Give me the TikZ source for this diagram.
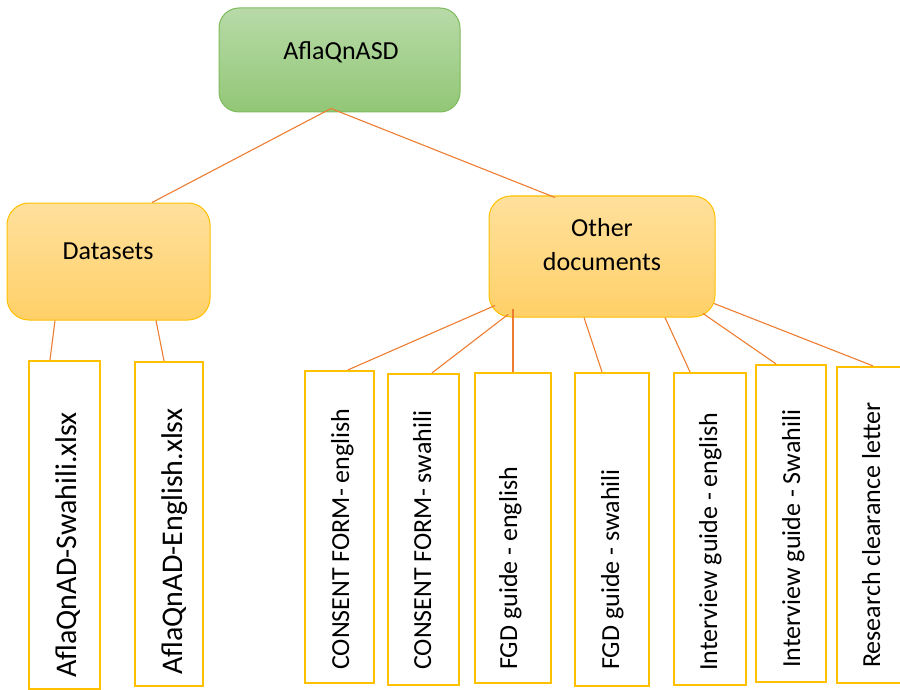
\documentclass[tikz,border=0pt]{standalone}
\usepackage{fontspec}
\setmainfont{Carlito}
\definecolor{gtop}{RGB}{184,218,168}
\definecolor{gbot}{RGB}{146,199,118}
\definecolor{gborder}{RGB}{125,186,92}
\definecolor{otop}{RGB}{255,224,156}
\definecolor{obot}{RGB}{255,208,104}
\definecolor{oborder}{RGB}{255,192,0}
\definecolor{conn}{RGB}{237,125,49}
\tikzset{
  rootbox/.style={draw=gborder, line width=1pt, rounded corners=20pt, shading=axis, top color=gtop, bottom color=gbot, inner sep=0pt},
  midbox/.style={draw=oborder, line width=1pt, rounded corners=22pt, shading=axis, top color=otop, bottom color=obot, inner sep=0pt},
  leafbox/.style={draw=oborder, line width=2.2pt, fill=white, inner sep=0pt},
  lbl/.style={font=\fontsize{26}{34}\selectfont, inner sep=0pt, text=black},
  leaftext/.style={lbl, rotate=90, anchor=base west},
  bigleaftext/.style={leaftext, font=\fontsize{30}{36}\selectfont},
  connector/.style={draw=conn, line width=1.1pt}
}
\begin{document}
\begin{tikzpicture}[x=1pt,y=-1pt]
\useasboundingbox (0,0) rectangle (900,690);
\clip (0,0) rectangle (900,690);
% main boxes
\node[rootbox, minimum width=241pt, minimum height=104pt] (root) at (339.5,60) {};
\node[lbl, anchor=base] (roottxt) at (341,60) {AflaQnASD};
\node[midbox, minimum width=203pt, minimum height=117pt] (data) at (108.5,261.5) {};
\node[lbl, anchor=base] (datatxt) at (108,259) {Datasets};
\node[midbox, minimum width=226pt, minimum height=121pt] (other) at (602,256.5) {};
\node[lbl, align=center] (othertxt) at (602,245) {Other\\documents};
% leaves
\node[leafbox, minimum width=71pt, minimum height=328pt] (l1) at (64.5,525) {};
\node[leafbox, minimum width=68pt, minimum height=324pt] (l2) at (169,524) {};
\node[leafbox, minimum width=69pt, minimum height=312pt] (l3) at (339.5,527) {};
\node[leafbox, minimum width=71pt, minimum height=311pt] (l4) at (423.5,529.5) {};
\node[leafbox, minimum width=76pt, minimum height=310pt] (l5) at (513,528) {};
\node[leafbox, minimum width=74pt, minimum height=313pt] (l6) at (612,529.5) {};
\node[leafbox, minimum width=72pt, minimum height=312pt] (l7) at (710,529) {};
\node[leafbox, minimum width=70pt, minimum height=317pt] (l8) at (791,523.5) {};
\node[leafbox, minimum width=78pt, minimum height=316pt] (l9) at (876,525) {};
\node[bigleaftext] (t1) at (76,678) {AflaQnAD-Swahili.xlsx};
\node[bigleaftext] (t2) at (182,675) {AflaQnAD-English.xlsx};
\node[leaftext] (t3) at (349,670) {CONSENT FORM- english};
\node[leaftext] (t4) at (431,670) {CONSENT FORM- swahili};
\node[leaftext] (t5) at (517,670) {FGD guide - english};
\node[leaftext] (t6) at (619,670) {FGD guide - swahili};
\node[leaftext] (t7) at (717,671) {Interview guide - english};
\node[leaftext] (t8) at (800,668) {Interview guide - Swahili};
\node[leaftext] (t9) at (880,668) {Research clearance letter};
% connectors
\draw[connector] ([xshift=-8.5pt,yshift=4pt]root.south) -- ([xshift=43.5pt]data.north);
\draw[connector] ([xshift=-8.5pt,yshift=4pt]root.south) -- ([xshift=-47pt,yshift=-2pt]other.north);
\draw[connector] ([xshift=-53.5pt]data.south) -- ([xshift=-14.5pt]l1.north);
\draw[connector] ([xshift=47.5pt]data.south) -- ([xshift=-5pt]l2.north);
\draw[connector] ([xshift=-107pt,yshift=12pt]other.south) -- ([xshift=8.5pt]l3.north);
\draw[connector] ([xshift=-94pt,yshift=3pt]other.south) -- ([xshift=8.5pt]l4.north);
\draw[connector] ([xshift=-89pt,yshift=9pt]other.south) -- (l5.north);
\draw[connector] ([xshift=-18pt]other.south) -- ([xshift=-10pt]l6.north);
\draw[connector] ([xshift=63pt]other.south) -- ([xshift=-20pt]l7.north);
\draw[connector] ([xshift=101pt,yshift=4pt]other.south) -- ([xshift=-15pt]l8.north);
\draw[connector] ([xshift=112pt,yshift=14pt]other.south) -- ([xshift=-3pt]l9.north);
\end{tikzpicture}
\end{document}
